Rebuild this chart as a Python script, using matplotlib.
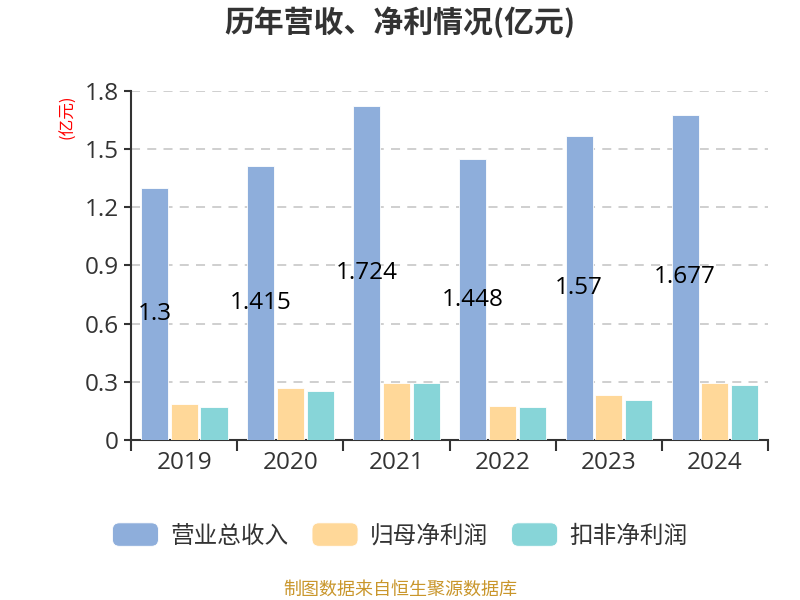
import matplotlib
matplotlib.use("Agg")
import matplotlib.pyplot as plt
import numpy as np
from matplotlib.patches import FancyBboxPatch
from matplotlib.legend_handler import HandlerPatch

plt.rcParams['font.family'] = ['Noto Sans CJK SC', 'DejaVu Sans']
NUM_FONT = ['Open Sans', 'DejaVu Sans']

# data (亿元)
years = ["2019", "2020", "2021", "2022", "2023", "2024"]
revenue = [1.3, 1.415, 1.724, 1.448, 1.57, 1.677]
net_profit = [0.187, 0.268, 0.296, 0.174, 0.232, 0.294]
net_profit_ex = [0.170, 0.251, 0.292, 0.170, 0.208, 0.282]
series_names = ["营业总收入", "归母净利润", "扣非净利润"]
colors = ["#8EAEDB", "#FFD899", "#87D5D8"]

fig = plt.figure(figsize=(8, 6), dpi=100)
ax = fig.add_axes([0.164, 0.2667, 0.796, 0.5817])

x = np.arange(len(years))
w = 0.255
off = 0.28
b1 = ax.bar(x - off, revenue, w, color=colors[0], edgecolor="#ffffff", linewidth=0.6, label=series_names[0], zorder=3)
b2 = ax.bar(x, net_profit, w, color=colors[1], edgecolor="#ffffff", linewidth=0.6, label=series_names[1], zorder=3)
b3 = ax.bar(x + off, net_profit_ex, w, color=colors[2], edgecolor="#ffffff", linewidth=0.6, label=series_names[2], zorder=3)

# value labels on revenue bars, middle of bar
for xi, v in zip(x, revenue):
    ax.text(xi - off, v / 2, f"{v:g}", ha="center", va="center", fontsize=17.5,
            family=NUM_FONT, color="#000000", zorder=4)

ax.set_xlim(-0.5, len(years) - 0.5)
ax.set_ylim(0, 1.8)
yt = [0, 0.3, 0.6, 0.9, 1.2, 1.5, 1.8]
ax.set_yticks(yt)
ax.set_yticklabels(["0", "0.3", "0.6", "0.9", "1.2", "1.5", "1.8"], fontsize=17.5,
                   color="#333333", family=NUM_FONT)
ax.tick_params(axis="y", length=5, width=1.5, color="#333333", pad=4)

# ticks at boundaries, labels at centers
ax.set_xticks(np.arange(-0.5, len(years)), minor=False)
ax.set_xticklabels([""] * (len(years) + 1))
ax.tick_params(axis="x", which="major", length=8, width=1.5, color="#333333")
ax.set_xticks(x, minor=True)
ax.set_xticklabels(years, minor=True, fontsize=17.5, color="#333333", family=NUM_FONT)
ax.tick_params(axis="x", which="minor", length=0, pad=8)

for yv in yt[1:]:
    ax.axhline(yv, color="#cccccc", linestyle=(0, (5, 4)), linewidth=1.3, zorder=1)

for s in ["top", "right"]:
    ax.spines[s].set_visible(False)
for s in ["left", "bottom"]:
    ax.spines[s].set_color("#333333")
    ax.spines[s].set_linewidth(1.5)

fig.text(0.085, 0.805, "(亿元)", rotation=90, color="red", fontsize=12, ha="center", va="center")
fig.text(0.5, 0.963, "历年营收、净利情况(亿元)", ha="center", va="center", fontsize=21.5, fontweight="bold", color="#333333")
fig.text(0.5, 0.017, "制图数据来自恒生聚源数据库", ha="center", va="center", fontsize=13, color="#C9962B")


def rounded_box(legend, orig_handle, xdescent, ydescent, width, height, fontsize):
    return FancyBboxPatch((-xdescent, -ydescent), width, height,
                          boxstyle="round,pad=0,rounding_size=5",
                          facecolor=orig_handle.get_facecolor(), edgecolor="none")


leg = fig.legend(handles=[b1.patches[0], b2.patches[0], b3.patches[0]], labels=series_names,
                 loc="center", bbox_to_anchor=(0.5, 0.108), ncol=3, frameon=False,
                 fontsize=17, handlelength=1.95, handleheight=1.15, handletextpad=0.5,
                 columnspacing=1.0,
                 handler_map={matplotlib.patches.Rectangle: HandlerPatch(patch_func=rounded_box)})
for t in leg.get_texts():
    t.set_color("#333333")

fig.savefig("out.png", dpi=100)
